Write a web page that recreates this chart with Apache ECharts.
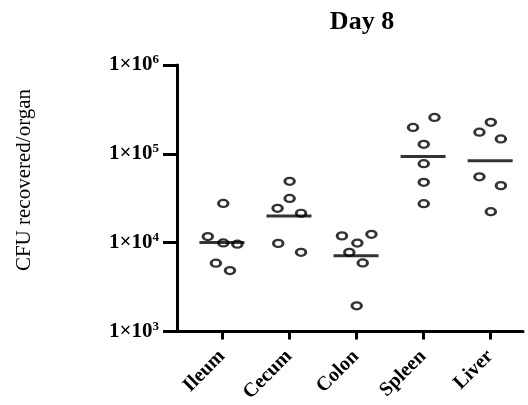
<!DOCTYPE html>
<html>
<head>
<meta charset="utf-8">
<script src="https://cdn.jsdelivr.net/npm/echarts@6/dist/echarts.min.js"></script>
<style>html,body{margin:0;padding:0;background:#fff}#c{width:528px;height:405px}</style>
</head>
<body>
<div id="c"></div>
<script>
const categories = ['Ileum', 'Cecum', 'Colon', 'Spleen', 'Liver'];
const ileum  = [27600, 11700, 9900, 9600, 5860, 4840];
const cecum  = [49000, 31400, 24300, 21400, 9800, 7770];
const colon  = [11900, 12400, 9870, 7760, 5900, 1940];
const spleen = [257000, 198000, 128000, 77300, 47700, 27400];
const liver  = [226000, 175000, 147000, 55000, 43800, 22300];
// horizontal spread of dots within each group (category units)
const ileumSpread  = [0.02, -0.21, 0.02, 0.23, -0.09, 0.12];
const cecumSpread  = [0.01, 0.01, -0.17, 0.18, -0.16, 0.18];
const colonSpread  = [-0.21, 0.23, 0.02, -0.10, 0.10, 0.01];
const spleenSpread = [0.17, -0.15, 0.01, 0.01, 0.01, 0.01];
const liverSpread  = [0.01, -0.16, 0.16, -0.16, 0.16, 0.01];
const medians = [10000, 19900, 7130, 93300, 83500];
const tickExponents = ['3', '4', '5', '6'];
const title = 'Day 8';
const yName = 'CFU recovered/organ';

const groups = [ileum, cecum, colon, spleen, liver];
const spreads = [ileumSpread, cecumSpread, colonSpread, spleenSpread, liverSpread];
const pointData = [];
groups.forEach((vals, i) => vals.forEach((v, j) => pointData.push([i + spreads[i][j], v])));
const medianData = medians.map((m, i) => [i, m]);

const serif = 'Liberation Serif, Times New Roman, serif';
const chart = echarts.init(document.getElementById('c'), null, {renderer: 'canvas'});
chart.setOption({
  animation: false,
  backgroundColor: '#fff',
  title: {
    text: title, left: 357, top: 4, textAlign: 'center',
    textStyle: {fontFamily: serif, fontWeight: 'bold', fontSize: 26, color: '#000'}
  },
  grid: {left: 177, right: 5, top: 65, bottom: 72, containLabel: false},
  xAxis: {
    type: 'value', min: -0.67, max: 4.49,
    splitLine: {show: false},
    axisLine: {show: true, onZero: false, lineStyle: {color: '#000', width: 3}},
    axisTick: {show: true, length: 8, lineStyle: {color: '#000', width: 3}, customValues: [0, 1, 2, 3, 4]},
    axisLabel: {
      customValues: [0, 1, 2, 3, 4], rotate: 45, margin: 22,
      formatter: v => categories[Math.round(v)],
      fontFamily: serif, fontWeight: 'bold', fontSize: 20, color: '#000'
    }
  },
  yAxis: {
    type: 'log', logBase: 10, min: 1000, max: 1000000,
    splitLine: {show: false},
    minorTick: {show: false},
    axisLine: {show: true, onZero: false, lineStyle: {color: '#000', width: 3}},
    axisTick: {show: true, length: 14, lineStyle: {color: '#000', width: 3}},
    axisLabel: {
      margin: 18,
      formatter: v => '{a|1×10}{b|' + tickExponents[Math.round(Math.log10(v)) - 3] + '}',
      rich: {
        a: {fontFamily: serif, fontWeight: 'bold', fontSize: 21, color: '#000'},
        b: {fontFamily: serif, fontWeight: 'bold', fontSize: 13, color: '#000', padding: [0, 0, 10, 0]}
      }
    }
  },
  graphic: [{
    type: 'text', x: 24, y: 180, rotation: Math.PI / 2,
    style: {text: yName, fontFamily: serif, fontSize: 21, fill: '#000', align: 'center', verticalAlign: 'middle'}
  }],
  series: [
    {
      type: 'scatter', data: medianData, symbol: 'rect', symbolSize: [45, 3],
      itemStyle: {color: '#000'}, z: 2
    },
    {
      type: 'scatter', data: pointData,
      symbol: 'path://M0,5a5,5 0 1,0 10,0a5,5 0 1,0 -10,0z', symbolKeepAspect: false,
      symbolSize: [9.5, 7], z: 3,
      itemStyle: {color: 'rgba(0,0,0,0)', borderColor: '#000', borderWidth: 2.6}
    }
  ]
});
</script>
</body>
</html>
